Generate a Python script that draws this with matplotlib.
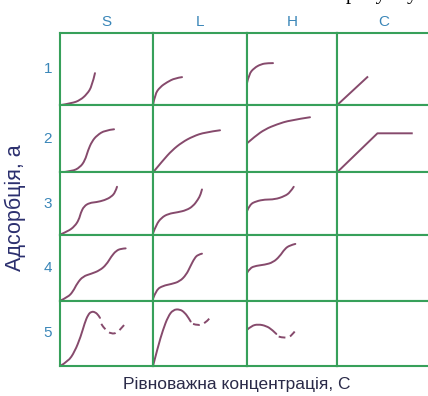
import matplotlib
matplotlib.use("Agg")
import matplotlib.pyplot as plt
from matplotlib.path import Path
from matplotlib.patches import PathPatch

# column / row labels
col_names = ["S", "L", "H", "C"]
row_names = ["1", "2", "3", "4", "5"]

# isotherm shapes, cell-local coords (C, a), both 0..1
curves = {
    ("S", "1"): ([0, .13, .215, .29, .344, .376], [0, .028, .069, .153, .264, .444]),
    ("L", "1"): ([0, .021, .074, .149, .234, .309], [0, .153, .25, .319, .375, .389]),
    ("H", "1"): ([0, .022, .078, .156, .233, .289], [.306, .431, .514, .569, .583, .583]),
    ("C", "1"): ([0, .326], [0, .389]),
    ("S", "2"): ([0, .129, .215, .269, .301, .344, .398, .484, .581],
                 [0, .015, .075, .179, .328, .463, .552, .627, .642]),
    ("L", "2"): ([0, .106, .202, .309, .426, .553, .713], [0, .179, .328, .448, .537, .597, .627]),
    ("H", "2"): ([0, .089, .2, .333, .478, .7], [.433, .537, .642, .716, .776, .821]),
    ("C", "2"): ([0, .435, .804], [0, .582, .582]),
    ("S", "3"): ([0, .086, .158, .204, .223, .258, .319, .39, .48, .552, .595, .613],
                 [0, .053, .134, .242, .35, .457, .511, .521, .553, .608, .682, .769]),
    ("L", "3"): ([0, .035, .088, .16, .266, .354, .426, .479, .507, .521],
                 [.02, .161, .269, .334, .36, .392, .457, .565, .645, .726]),
    ("H", "3"): ([0, .03, .103, .197, .308, .419, .481, .519],
                 [.376, .484, .537, .565, .565, .618, .682, .769]),
    ("S", "4"): ([0, .086, .14, .186, .247, .337, .427, .498, .552, .605, .659, .706],
                 [0, .056, .141, .268, .369, .409, .459, .545, .671, .758, .788, .792]),
    ("L", "4"): ([0, .035, .106, .195, .284, .354, .397, .443, .479, .521],
                 [.03, .167, .227, .253, .292, .394, .52, .647, .697, .712]),
    ("H", "4"): ([0, .03, .103, .197, .289, .363, .419, .474, .537],
                 [.42, .495, .53, .545, .58, .671, .783, .838, .859]),
    ("S", "5"): ([0, .086, .158, .223, .265, .301, .337, .38, .416, .43],
                 [0, .066, .22, .451, .657, .785, .836, .826, .774, .738]),
    ("L", "5"): ([0, .053, .106, .16, .213, .284, .337, .38, .401],
                 [0, .297, .554, .759, .862, .872, .82, .734, .682]),
    ("H", "5"): ([0, .048, .122, .214, .281, .326], [.554, .615, .641, .615, .554, .492]),
}
# dashed tails (row 5)
tails = {
    ("S", "5"): ([.444, .484, .552, .613, .659, .713], [.646, .554, .492, .508, .58, .666]),
    ("L", "5"): ([.426, .479, .55, .603], [.646, .62, .646, .734]),
    ("H", "5"): ([.352, .419, .492, .548], [.451, .426, .451, .564]),
}
# these are straight segments, keep the corners
straight = {("C", "1"), ("C", "2")}

green = "#37a05a"
blue = "#3a86b8"
curve_col = "#864a6c"


def smooth_path(x, y):
    # quadratic bezier through midpoints, read points act as control points
    pts = list(zip(x, y))
    if len(pts) < 3:
        return Path(pts)
    verts = [pts[0]]
    codes = [Path.MOVETO]
    for k in range(1, len(pts) - 1):
        if k < len(pts) - 2:
            end = ((pts[k][0] + pts[k + 1][0]) / 2, (pts[k][1] + pts[k + 1][1]) / 2)
        else:
            end = pts[-1]
        verts += [pts[k], end]
        codes += [Path.CURVE3, Path.CURVE3]
    return Path(verts, codes)


fig = plt.figure(figsize=(4.28, 3.96), dpi=100)
gs = fig.add_gridspec(5, 4, left=60 / 428, right=430 / 428, top=1 - 33 / 396, bottom=1 - 366 / 396,
                      width_ratios=[93, 94, 90, 93], height_ratios=[72, 67, 62, 66, 65],
                      wspace=0, hspace=0)

for i, r in enumerate(row_names):
    for j, c in enumerate(col_names):
        ax = fig.add_subplot(gs[i, j])
        ax.set_xlim(0, 1)
        ax.set_ylim(0, 1)
        ax.set_xticks([])
        ax.set_yticks([])
        for s in ax.spines.values():
            s.set_color(green)
            s.set_linewidth(1.5)
        if (c, r) in curves:
            x, y = curves[(c, r)]
            if (c, r) in straight:
                ax.plot(x, y, color=curve_col, lw=1.4, clip_on=False)
            else:
                ax.add_patch(PathPatch(smooth_path(x, y), fill=False, ec=curve_col, lw=1.4,
                                       clip_on=False, capstyle="round"))
        if (c, r) in tails:
            x, y = tails[(c, r)]
            ax.add_patch(PathPatch(smooth_path(x, y), fill=False, ec=curve_col, lw=1.4,
                                   ls=(0, (3.5, 2.5))))
        if i == 0:
            ax.set_title(c, color=blue, fontsize=11, pad=5, family="Liberation Sans")
        if j == 0:
            ax.text(-0.13, 0.5, r, color=blue, fontsize=11, ha="center", va="center",
                    transform=ax.transAxes, family="Liberation Sans")

fig.text(15 / 428, 1 - 208 / 396, "Адсорбція, а", rotation=90, ha="center", va="center",
         fontsize=15.5, color="#2b2f6e", family="Liberation Sans")
fig.text(237 / 428, 1 - 384 / 396, "Рівноважна концентрація, С", ha="center", va="center",
         fontsize=12.5, color="#2a2a48", family="Liberation Sans")

# clipped text from the page above, only descenders show
fig.text(346 / 428, 1 + 1 / 396, "рисунку", ha="left", va="baseline",
         fontsize=15, color="black", family="Liberation Serif")

fig.savefig("out.png", dpi=100)
